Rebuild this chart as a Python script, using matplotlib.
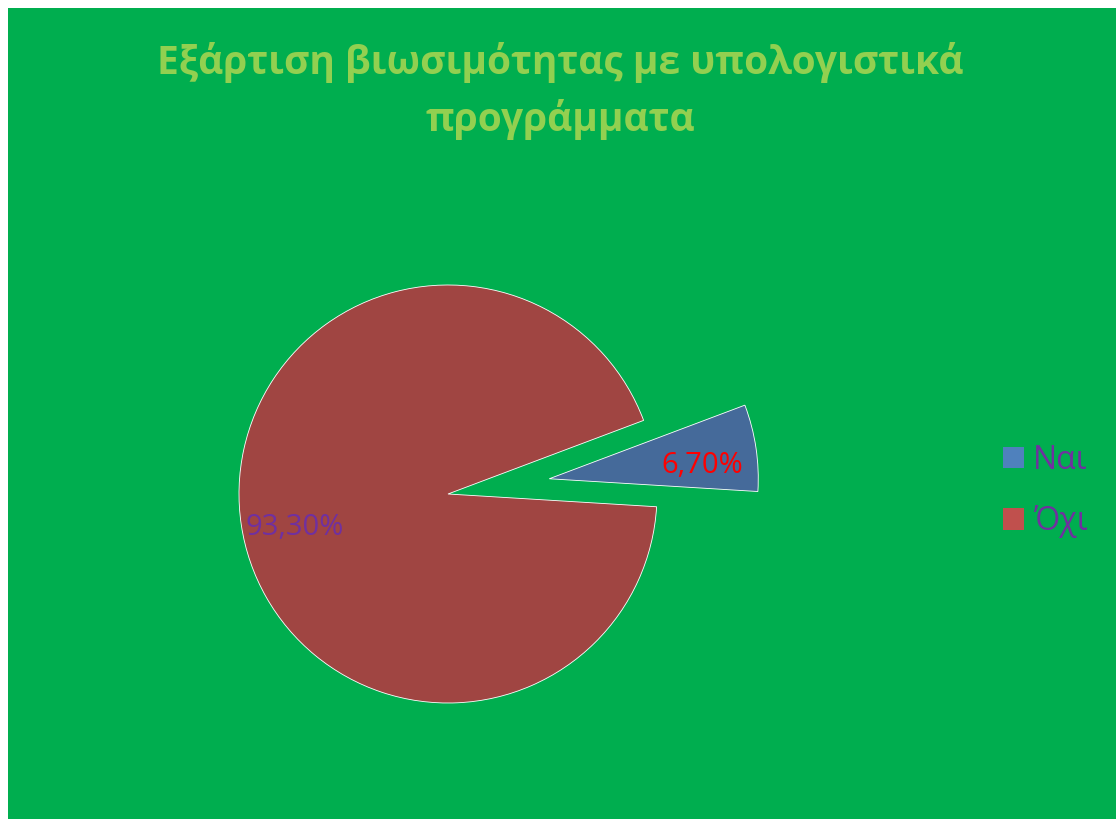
import matplotlib
matplotlib.use("Agg")
import matplotlib.pyplot as plt
from matplotlib.patches import Patch, Rectangle

plt.rcParams['font.family'] = ['Open Sans', 'DejaVu Sans']

# data
labels = ['Ναι', 'Όχι']
values = [6.7, 93.3]
pct_text = ['6,70%', '93,30%']
title = 'Εξάρτιση βιωσιμότητας με υπολογιστικά\nπρογράμματα'

slice_colors = ['#456A9A', '#A04542']
legend_colors = ['#4F81BD', '#C0504D']
pct_colors = ['#FF0000', '#7030A0']
bg = '#00AE4F'

W, H = 1116, 819
R = 209
fig = plt.figure(figsize=(W / 100, H / 100), dpi=100, facecolor='white')
ax = fig.add_axes([0, 0, 1, 1])

# green chart area (white strip at top and left)
ax.add_patch(Rectangle((8, 0), W - 8, H - 8, facecolor=bg, edgecolor='none', zorder=0))

# explode is in data units here, so scale by the radius
wedges, texts, autotexts = ax.pie(
    values, colors=slice_colors, startangle=-3.5, counterclock=True,
    explode=[0.49 * R, 0], center=(448, H - 494), radius=R,
    autopct='%1.1f', pctdistance=0.74, frame=True,
    wedgeprops=dict(edgecolor='white', linewidth=0.6),
)
for t, s, c in zip(autotexts, pct_text, pct_colors):
    t.set_text(s)
    t.set_color(c)
    t.set_fontsize(21)
autotexts[0].set_y(autotexts[0].get_position()[1] - 10)
autotexts[1].set_y(autotexts[1].get_position()[1] - 10)

ax.set_xlim(0, W)
ax.set_ylim(0, H)
ax.set_aspect('equal')
ax.axis('off')

fig.text(0.502, 1 - 91 / H, title, ha='center', va='center', fontsize=28,
         fontweight='bold', color='#92D050', linespacing=1.5)

handles = [Patch(facecolor=c, edgecolor='none') for c in legend_colors]
leg = ax.legend(handles, labels, loc='center left', bbox_to_anchor=(1003 / W, 1 - 491 / H),
                frameon=False, fontsize=23, handlelength=0.65, handleheight=0.65,
                handletextpad=0.3, labelspacing=0.9, borderpad=0, borderaxespad=0)
for t in leg.get_texts():
    t.set_color('#7030A0')

fig.savefig('out.png', dpi=100, facecolor='white')
